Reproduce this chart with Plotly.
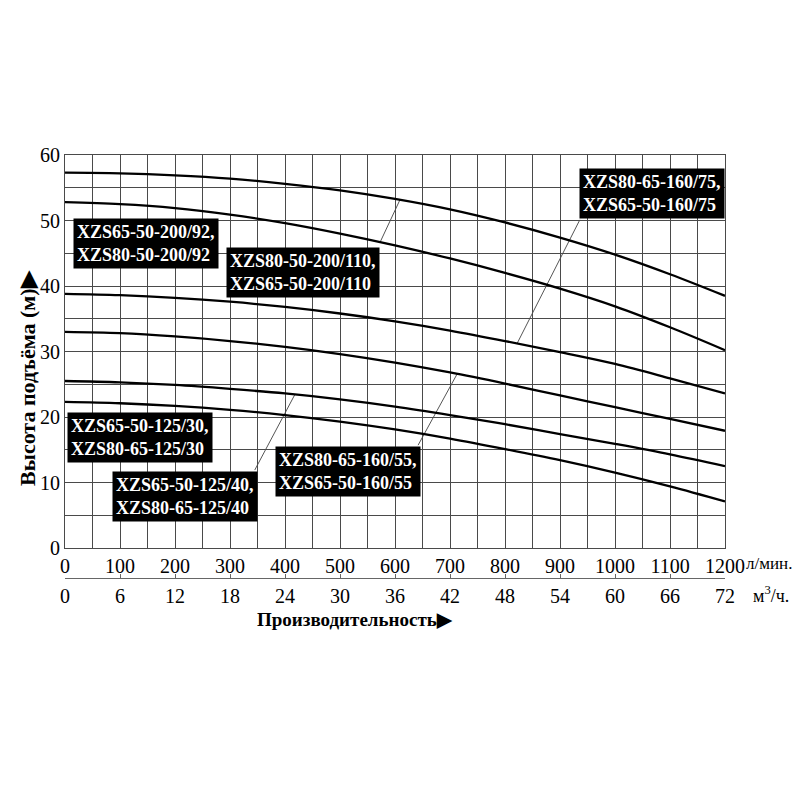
import numpy as np
import plotly.graph_objects as go

# flow, l/min
flow = [0, 100, 200, 300, 400, 500, 600, 700, 800, 900, 1000, 1100, 1200]

# head, m
head_200_110 = [57.3, 57.2, 56.9, 56.4, 55.6, 54.6, 53.3, 51.7, 49.7, 47.4, 44.8, 41.8, 38.5]
head_200_92 = [52.8, 52.5, 51.9, 50.9, 49.6, 48.0, 46.2, 44.2, 42.0, 39.6, 36.9, 33.7, 30.2]
head_160_75 = [38.8, 38.6, 38.2, 37.6, 36.8, 35.8, 34.6, 33.2, 31.6, 29.9, 28.1, 25.9, 23.6]
head_160_55 = [33.0, 32.8, 32.3, 31.6, 30.7, 29.6, 28.3, 26.8, 25.1, 23.3, 21.5, 19.7, 17.9]
head_125_40 = [25.5, 25.3, 24.9, 24.3, 23.6, 22.7, 21.6, 20.3, 18.9, 17.4, 15.9, 14.3, 12.5]
head_125_30 = [22.3, 22.1, 21.7, 21.1, 20.3, 19.3, 18.1, 16.7, 15.1, 13.4, 11.5, 9.4, 7.1]

lpm_ticks = [0, 100, 200, 300, 400, 500, 600, 700, 800, 900, 1000, 1100, 1200]
m3h_ticks = [0, 6, 12, 18, 24, 30, 36, 42, 48, 54, 60, 66, 72]

labels = {
    "200_92": "XZS65-50-200/92,<br>XZS80-50-200/92",
    "200_110": "XZS80-50-200/110,<br>XZS65-50-200/110",
    "160_75": "XZS80-65-160/75,<br>XZS65-50-160/75",
    "125_30": "XZS65-50-125/30,<br>XZS80-65-125/30",
    "125_40": "XZS65-50-125/40,<br>XZS80-65-125/40",
    "160_55": "XZS80-65-160/55,<br>XZS65-50-160/55",
}

serif = "Liberation Serif, Times New Roman, serif"
grid_col = "#4a4a4a"

fig = go.Figure()
for h in [head_200_110, head_200_92, head_160_75, head_160_55, head_125_40, head_125_30]:
    fig.add_trace(go.Scatter(x=flow, y=h, mode="lines",
                             line=dict(color="black", width=2.3, shape="spline"),
                             hoverinfo="skip", showlegend=False))

# dummy trace so the m3/h axis is drawn
fig.add_trace(go.Scatter(x=[0, 72], y=[0, 0], xaxis="x2", mode="markers",
                         marker=dict(opacity=0), showlegend=False, hoverinfo="skip"))

# black label boxes
boxes = [
    ("200_92", 147, 46.5),
    ("200_110", 433, 42.0),
    ("160_75", 1067, 54.1),
    ("125_30", 136, 16.8),
    ("125_40", 219, 7.9),
    ("160_55", 515, 11.7),
]
for key, bx, by in boxes:
    fig.add_annotation(x=bx, y=by, text="<b>" + labels[key] + "</b>", showarrow=False,
                       bgcolor="black", borderpad=3, align="left",
                       font=dict(family=serif, size=18, color="white"))

# leader lines from box corner to its curve
leaders = [
    (573, 46.7, 609, head_200_110),
    (936, 50.1, 822, head_160_75),
    (642, 15.7, 713, head_160_55),
    (345, 11.9, 418, head_125_40),
]
for x0, y0, x1, h in leaders:
    fig.add_shape(type="line", x0=x0, y0=y0, x1=x1, y1=float(np.interp(x1, flow, h)),
                  line=dict(color="#555555", width=1), layer="below")

fig.add_annotation(xref="paper", yref="paper", x=1.105, y=0.035, xanchor="right",
                   yanchor="middle", text="л/мин.", showarrow=False,
                   font=dict(family=serif, size=17, color="black"))
fig.add_annotation(xref="paper", yref="paper", x=1.04, y=-0.040, xanchor="left",
                   yanchor="middle", text="м<sup>3</sup>/ч.", showarrow=False,
                   font=dict(family=serif, size=18, color="black"))
fig.add_annotation(xref="paper", yref="paper", x=0.439, y=-0.099, xanchor="center",
                   yanchor="middle", text="<b>Производительность▶</b>", showarrow=False,
                   font=dict(family=serif, size=19, color="black"))
fig.add_annotation(xref="paper", yref="paper", x=-0.056, y=0.473, textangle=-90,
                   xanchor="center", yanchor="middle",
                   text="<b>Высота подъёма (м)▶</b>", showarrow=False,
                   font=dict(family=serif, size=22, color="black"))

fig.update_layout(
    width=792, height=792,
    margin=dict(l=57, r=75, t=147, b=222, pad=0),
    plot_bgcolor="white", paper_bgcolor="white",
    font=dict(family=serif, size=20, color="black"),
    xaxis=dict(range=[0, 1200], tickvals=lpm_ticks, showgrid=True, gridcolor=grid_col,
               gridwidth=1, minor=dict(dtick=50, showgrid=True, gridcolor=grid_col),
               showline=True, linecolor=grid_col, mirror=True, zeroline=False,
               ticks="", anchor="y", tickfont=dict(size=20)),
    xaxis2=dict(range=[0, 72], tickvals=m3h_ticks, overlaying="x", anchor="free",
                position=0, side="bottom", showgrid=False, zeroline=False,
                showline=True, linecolor="#666666", ticks="inside", ticklen=4,
                tickcolor="#666666", tickfont=dict(size=20)),
    yaxis=dict(range=[0, 60], dtick=10, domain=[0.0709, 1], showgrid=True,
               gridcolor=grid_col, gridwidth=1,
               minor=dict(dtick=5, showgrid=True, gridcolor=grid_col),
               showline=True, linecolor=grid_col, mirror=True, zeroline=False,
               ticks="", tickfont=dict(size=20)),
)

fig.write_html("out.html")
